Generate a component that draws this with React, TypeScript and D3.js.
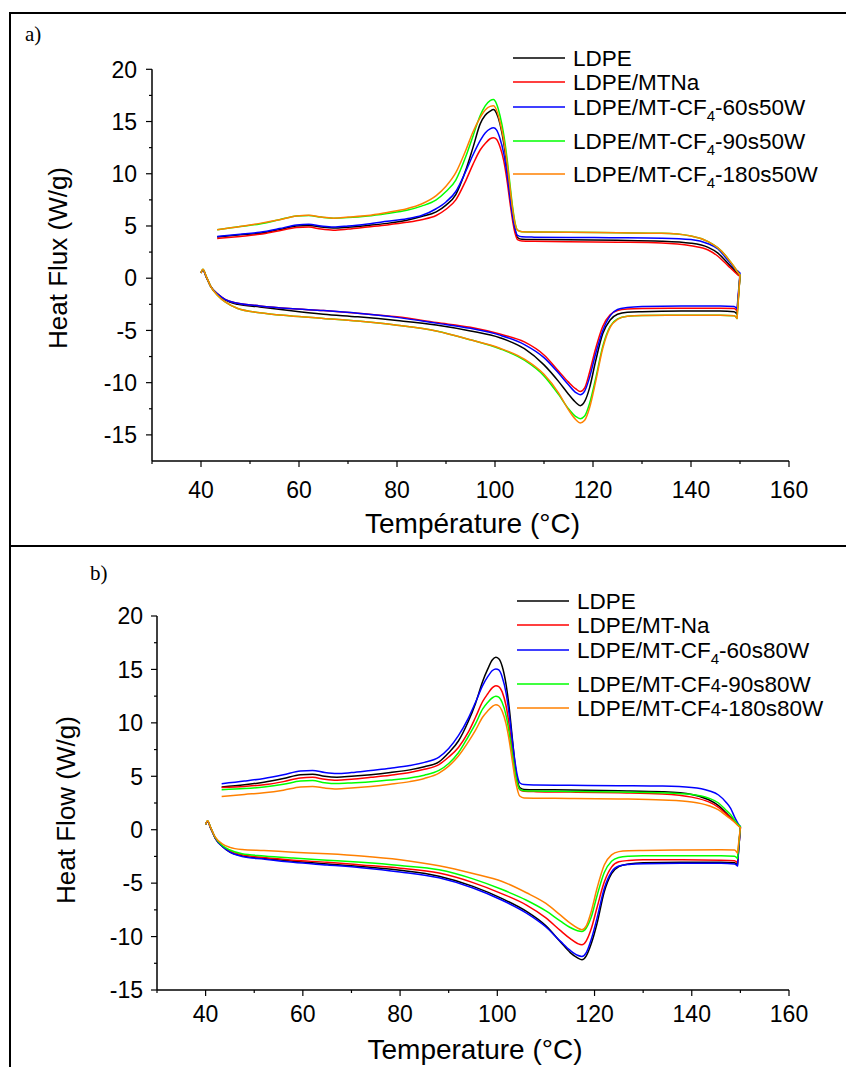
import React from "react";
import * as d3 from "d3";

const FONT = "'Liberation Sans', Arial, Helvetica, sans-serif";
const SERIF = "'Liberation Serif', 'Times New Roman', serif";

// Temperatures (°C) of the heating scan (40 -> 150) and of the cooling scan (150 -> 43)
const heatT = [40, 40.4, 41, 42, 43.5, 45, 47.5, 52, 58, 65, 72, 80, 88, 95, 101, 106, 110, 113, 115, 116.5, 117.4, 118.3, 119.3, 120.5, 122, 123.5, 125, 127, 130, 138, 146, 148.8, 149.4];
const coolT = [150, 149.5, 148.8, 148, 147, 145.5, 143.5, 140, 134, 125, 115, 108, 105.5, 104.6, 104.1, 103.6, 103.1, 102.5, 101.8, 101, 100.3, 99.7, 99, 98, 97, 95.5, 94, 92, 90, 88, 85, 82, 78, 74, 70, 67, 64.5, 62, 59.5, 56, 52, 48, 43.3];

// ---- Panel a) ----
const aNames = ["LDPE", "LDPE/MTNa", "LDPE/MT-CF4-60s50W", "LDPE/MT-CF4-90s50W", "LDPE/MT-CF4-180s50W"];
const aHeatLDPE = [0.5, 0.8, 0.2, -0.8, -1.6, -2.1, -2.5, -2.75, -3.1, -3.45, -3.7, -4.05, -4.48, -5.05, -5.7, -6.75, -8.3, -9.9, -11.1, -11.9, -12.2, -11.8, -10.5, -8.0, -5.3, -4.0, -3.45, -3.25, -3.2, -3.15, -3.15, -3.2, -3.45];
const aHeatMTNa = [0.5, 0.8, 0.2, -0.8, -1.55, -2.05, -2.4, -2.65, -2.9, -3.1, -3.35, -3.7, -4.25, -4.7, -5.35, -6.1, -7.35, -8.9, -9.95, -10.6, -10.85, -10.5, -9.0, -6.8, -4.6, -3.5, -3.1, -2.95, -2.9, -2.87, -2.87, -2.9, -3.15];
const aHeat60 = [0.5, 0.8, 0.2, -0.8, -1.55, -2.05, -2.4, -2.65, -2.9, -3.1, -3.35, -3.75, -4.3, -4.8, -5.45, -6.35, -7.6, -9.1, -10.2, -10.95, -11.15, -10.8, -9.5, -7.3, -5.0, -3.6, -3.0, -2.8, -2.7, -2.65, -2.65, -2.7, -2.95];
const aHeat90 = [0.5, 0.85, 0.25, -0.8, -1.7, -2.3, -2.9, -3.3, -3.6, -3.85, -4.1, -4.5, -5.05, -5.9, -6.75, -7.85, -9.35, -11.15, -12.5, -13.25, -13.45, -13.2, -12.0, -9.7, -6.5, -4.6, -3.9, -3.65, -3.57, -3.55, -3.55, -3.6, -3.85];
const aHeat180 = [0.5, 0.85, 0.25, -0.8, -1.7, -2.3, -2.9, -3.3, -3.6, -3.85, -4.1, -4.5, -5.05, -5.9, -6.7, -7.75, -9.2, -11.0, -12.6, -13.55, -13.85, -13.6, -12.4, -10.0, -6.7, -4.7, -3.95, -3.65, -3.57, -3.55, -3.55, -3.6, -3.85];
const aCoolLDPE = [0.2, 0.4, 0.8, 1.2, 1.7, 2.4, 2.95, 3.35, 3.55, 3.63, 3.67, 3.7, 3.73, 3.9, 4.6, 6.0, 8.0, 10.5, 12.9, 14.8, 15.8, 16.15, 16.0, 15.6, 14.8, 12.5, 10.3, 8.0, 7.0, 6.35, 5.9, 5.55, 5.25, 5.05, 4.88, 4.8, 4.9, 5.05, 5.0, 4.65, 4.3, 4.15, 3.95];
const aCoolMTNa = [0.2, 0.35, 0.65, 1.0, 1.45, 2.1, 2.7, 3.1, 3.38, 3.45, 3.5, 3.53, 3.56, 3.7, 4.3, 5.5, 7.1, 9.2, 11.2, 12.6, 13.3, 13.45, 13.35, 12.9, 12.3, 10.9, 9.3, 7.5, 6.6, 6.0, 5.6, 5.35, 5.1, 4.9, 4.7, 4.6, 4.7, 4.9, 4.85, 4.55, 4.2, 4.0, 3.8];
const aCool60 = [0.5, 0.7, 1.0, 1.45, 2.0, 2.8, 3.3, 3.7, 3.83, 3.88, 3.9, 3.93, 3.96, 4.1, 4.7, 5.9, 7.6, 9.8, 11.9, 13.4, 14.2, 14.4, 14.3, 13.9, 13.2, 11.8, 10.2, 8.3, 7.3, 6.65, 6.0, 5.7, 5.45, 5.2, 5.0, 4.9, 5.0, 5.17, 5.1, 4.75, 4.4, 4.2, 4.0];
const aCool90 = [0.3, 0.6, 1.1, 1.6, 2.2, 2.9, 3.5, 4.05, 4.3, 4.35, 4.4, 4.42, 4.45, 4.6, 5.3, 6.8, 8.8, 11.3, 13.7, 15.6, 16.7, 17.1, 17.0, 16.5, 15.6, 13.6, 11.6, 9.4, 8.3, 7.5, 6.9, 6.5, 6.2, 5.95, 5.8, 5.75, 5.85, 6.0, 5.95, 5.6, 5.2, 4.95, 4.65];
const aCool180 = [0.3, 0.6, 1.1, 1.6, 2.2, 2.9, 3.5, 4.05, 4.3, 4.35, 4.4, 4.42, 4.45, 4.6, 5.2, 6.6, 8.5, 10.9, 13.2, 15.0, 16.1, 16.5, 16.45, 16.1, 15.4, 14.0, 12.2, 10.1, 8.8, 7.9, 7.1, 6.65, 6.3, 6.0, 5.85, 5.75, 5.85, 6.02, 5.95, 5.6, 5.25, 4.95, 4.65];

// ---- Panel b) ----
const bNames = ["LDPE", "LDPE/MT-Na", "LDPE/MT-CF4-60s80W", "LDPE/MT-CF4-90s80W", "LDPE/MT-CF4-180s80W"];
const bHeatLDPE = [0.5, 0.8, 0.2, -0.8, -1.6, -2.1, -2.45, -2.7, -2.95, -3.2, -3.45, -3.8, -4.35, -5.3, -6.45, -7.65, -9.0, -10.5, -11.5, -12.0, -12.17, -11.8, -10.7, -8.8, -5.8, -4.1, -3.45, -3.2, -3.08, -3.05, -3.05, -3.1, -3.3];
const bHeatMTNa = [0.5, 0.8, 0.2, -0.8, -1.55, -2.0, -2.35, -2.6, -2.85, -3.05, -3.3, -3.6, -4.06, -4.95, -6.0, -7.05, -8.25, -9.45, -10.2, -10.65, -10.77, -10.4, -9.3, -7.3, -4.9, -3.5, -3.0, -2.88, -2.82, -2.82, -2.85, -2.9, -3.1];
const bHeat60 = [0.5, 0.8, 0.2, -0.8, -1.6, -2.1, -2.5, -2.75, -3.05, -3.3, -3.55, -3.95, -4.5, -5.45, -6.6, -7.8, -9.1, -10.45, -11.3, -11.75, -11.86, -11.5, -10.3, -8.3, -5.5, -3.95, -3.4, -3.25, -3.18, -3.15, -3.15, -3.2, -3.4];
const bHeat90 = [0.5, 0.85, 0.25, -0.75, -1.5, -1.9, -2.25, -2.45, -2.65, -2.85, -3.05, -3.35, -3.75, -4.6, -5.6, -6.6, -7.6, -8.55, -9.15, -9.45, -9.52, -9.2, -8.2, -6.2, -4.0, -2.95, -2.6, -2.48, -2.43, -2.43, -2.43, -2.48, -2.7];
const bHeat180 = [0.5, 0.85, 0.25, -0.7, -1.35, -1.65, -1.85, -1.95, -2.1, -2.25, -2.45, -2.8, -3.37, -4.1, -4.85, -5.9, -6.9, -8.0, -8.75, -9.2, -9.36, -9.0, -7.7, -5.5, -3.3, -2.35, -2.05, -1.97, -1.94, -1.9, -1.88, -1.9, -2.2];
const bCoolLDPE = [0.2, 0.45, 0.8, 1.15, 1.6, 2.25, 2.8, 3.3, 3.55, 3.65, 3.72, 3.74, 3.77, 3.95, 4.7, 6.3, 8.5, 11.2, 13.6, 15.3, 16.0, 16.13, 15.9, 15.0, 13.9, 11.8, 10.1, 8.3, 7.2, 6.35, 5.9, 5.6, 5.35, 5.15, 5.0, 4.92, 5.0, 5.2, 5.15, 4.8, 4.45, 4.2, 4.0];
const bCoolMTNa = [0.2, 0.45, 0.75, 1.1, 1.5, 2.1, 2.6, 3.05, 3.35, 3.45, 3.52, 3.56, 3.6, 3.75, 4.4, 5.7, 7.4, 9.6, 11.6, 12.9, 13.4, 13.48, 13.3, 12.7, 12.0, 10.5, 9.1, 7.7, 6.8, 6.1, 5.65, 5.35, 5.1, 4.9, 4.72, 4.63, 4.72, 4.9, 4.85, 4.5, 4.2, 4.05, 3.95];
const bCool60 = [0.3, 0.6, 1.2, 2.0, 2.6, 3.25, 3.65, 3.95, 4.08, 4.12, 4.16, 4.19, 4.22, 4.4, 5.1, 6.5, 8.3, 10.6, 12.8, 14.3, 14.95, 15.05, 14.9, 14.3, 13.5, 11.9, 10.4, 8.8, 7.6, 6.8, 6.3, 6.0, 5.75, 5.55, 5.35, 5.25, 5.35, 5.55, 5.5, 5.15, 4.8, 4.55, 4.3];
const bCool90 = [0.3, 0.5, 0.9, 1.4, 1.85, 2.5, 2.95, 3.3, 3.45, 3.52, 3.58, 3.62, 3.65, 3.8, 4.4, 5.5, 7.0, 8.9, 10.7, 11.9, 12.4, 12.48, 12.35, 11.9, 11.3, 9.9, 8.7, 7.2, 6.2, 5.55, 5.1, 4.85, 4.65, 4.5, 4.38, 4.32, 4.4, 4.6, 4.55, 4.25, 4.0, 3.85, 3.75];
const bCool180 = [0.2, 0.4, 0.7, 1.0, 1.35, 1.85, 2.25, 2.6, 2.78, 2.88, 2.93, 2.95, 2.97, 3.15, 3.8, 4.9, 6.4, 8.2, 9.9, 11.1, 11.6, 11.7, 11.55, 11.1, 10.55, 9.3, 8.2, 6.9, 5.95, 5.3, 4.8, 4.5, 4.25, 4.05, 3.9, 3.82, 3.9, 4.05, 4.0, 3.7, 3.45, 3.3, 3.1];

const seriesColors = ["#000000", "#ff0000", "#0000ff", "#00ff00", "#ff8000"];
const xMajorTicks = [40, 60, 80, 100, 120, 140, 160];
const xMinorTicks = [30, 50, 70, 90, 110, 130, 150];
const yMajorTicks = [-15, -10, -5, 0, 5, 10, 15, 20];
const yMinorTicks = [-12.5, -7.5, -2.5, 2.5, 7.5, 12.5, 17.5];

type LegendStyle = "sub" | "inline";

interface PanelCfg {
  x0: number; x1: number; yTop: number; yBot: number; yMin: number;
  heat: number[][]; cool: number[][]; names: string[]; cf4Style: LegendStyle[];
  legX: number; legRows: number[];
  yTitle: string; xTitle: string; yTitleX: number; yTitleY: number;
  xLabelY: number; xTitleY: number; yLabelGap: number;
}

function LegendLabel({ name, style }: { name: string; style: LegendStyle }) {
  const i = name.indexOf("CF4");
  if (i < 0) return <>{name}</>;
  const pre = name.slice(0, i + 2);
  const post = name.slice(i + 3);
  if (style === "sub") {
    return (
      <>
        {pre}
        <tspan fontSize={15} dy={6}>4</tspan>
        <tspan dy={-6}>{post}</tspan>
      </>
    );
  }
  return (
    <>
      {pre}
      <tspan fontSize={18}>4</tspan>
      <tspan>{post}</tspan>
    </>
  );
}

function Panel({ p }: { p: PanelCfg }) {
  const x = d3.scaleLinear().domain([30, 160]).range([p.x0, p.x1]);
  const y = d3.scaleLinear().domain([p.yMin, 20]).range([p.yBot, p.yTop]);
  const line = d3
    .line<[number, number]>()
    .x((d) => x(d[0]))
    .y((d) => y(d[1]))
    .curve(d3.curveMonotoneX);
  const paths = p.heat.map((h, i) => {
    const hp = heatT.map((t, k) => [t, h[k]] as [number, number]);
    const cp = coolT.map((t, k) => [t, p.cool[i][k]] as [number, number]);
    return (line(hp) || "") + (line(cp) || "").replace(/^M/, "L");
  });
  const xAxisY = y(p.yMin);
  return (
    <g>
      {paths.map((d, i) => (
        <path key={i} d={d} fill="none" stroke={seriesColors[i]} strokeWidth={1.5} strokeLinejoin="round" />
      ))}
      {/* axes */}
      <line x1={x(30)} x2={x(30)} y1={y(20)} y2={xAxisY} stroke="#000" strokeWidth={1.5} />
      <line x1={x(30)} x2={x(160)} y1={xAxisY} y2={xAxisY} stroke="#000" strokeWidth={1.5} />
      {yMajorTicks.map((v) => (
        <g key={"ym" + v}>
          <line x1={x(30) - 6} x2={x(30)} y1={y(v)} y2={y(v)} stroke="#000" strokeWidth={1.2} />
          <text x={x(30) - p.yLabelGap} y={y(v)} dy="0.36em" textAnchor="end" fontFamily={FONT} fontSize={23}>
            {v}
          </text>
        </g>
      ))}
      {yMinorTicks.filter((v) => v > p.yMin).map((v) => (
        <line key={"yn" + v} x1={x(30) - 3} x2={x(30)} y1={y(v)} y2={y(v)} stroke="#000" strokeWidth={1.2} />
      ))}
      {xMajorTicks.map((t) => (
        <g key={"xm" + t}>
          <line x1={x(t)} x2={x(t)} y1={xAxisY} y2={xAxisY + 6} stroke="#000" strokeWidth={1.2} />
          <text x={x(t)} y={p.xLabelY} textAnchor="middle" fontFamily={FONT} fontSize={23}>
            {t}
          </text>
        </g>
      ))}
      {xMinorTicks.map((t) => (
        <line key={"xn" + t} x1={x(t)} x2={x(t)} y1={xAxisY} y2={xAxisY + 3} stroke="#000" strokeWidth={1.2} />
      ))}
      <text
        transform={`translate(${p.yTitleX},${p.yTitleY}) rotate(-90)`}
        textAnchor="middle"
        fontFamily={FONT}
        fontSize={26}
      >
        {p.yTitle}
      </text>
      <text x={(p.x0 + p.x1) / 2 + 2} y={p.xTitleY} textAnchor="middle" fontFamily={FONT} fontSize={28}>
        {p.xTitle}
      </text>
      {/* legend */}
      {p.names.map((n, i) => (
        <g key={"lg" + i}>
          <line x1={p.legX} x2={p.legX + 52} y1={p.legRows[i]} y2={p.legRows[i]} stroke={seriesColors[i]} strokeWidth={1.5} />
          <text x={p.legX + 60} y={p.legRows[i] + 8} fontFamily={FONT} fontSize={22.5}>
            <LegendLabel name={n} style={p.cf4Style[i]} />
          </text>
        </g>
      ))}
    </g>
  );
}

const panelA: PanelCfg = {
  x0: 152, x1: 789, yTop: 69.3, yBot: 461, yMin: -17.5,
  heat: [aHeatLDPE, aHeatMTNa, aHeat60, aHeat90, aHeat180],
  cool: [aCoolLDPE, aCoolMTNa, aCool60, aCool90, aCool180],
  names: aNames, cf4Style: ["sub", "sub", "sub", "sub", "sub"],
  legX: 513, legRows: [58, 82, 107, 141, 174],
  yTitle: "Heat Flux (W/g)", xTitle: "Température (°C)", yTitleX: 67, yTitleY: 258,
  xLabelY: 498, xTitleY: 533, yLabelGap: 15,
};

const panelB: PanelCfg = {
  x0: 157, x1: 789, yTop: 616, yBot: 990, yMin: -15,
  heat: [bHeatLDPE, bHeatMTNa, bHeat60, bHeat90, bHeat180],
  cool: [bCoolLDPE, bCoolMTNa, bCool60, bCool90, bCool180],
  names: bNames, cf4Style: ["inline", "inline", "sub", "inline", "inline"],
  legX: 517, legRows: [601, 625, 650, 684, 708],
  yTitle: "Heat Flow (W/g)", xTitle: "Temperature (°C)", yTitleX: 75, yTitleY: 810,
  xLabelY: 1022, xTitleY: 1059, yLabelGap: 14,
};

export default function App() {
  return (
    <svg
      width={846}
      height={1067}
      viewBox="0 0 846 1067"
      style={{ position: "absolute", left: 0, top: 0, background: "#fff" }}
    >
      <rect x={0} y={0} width={846} height={1067} fill="#fff" />
      {/* frame */}
      <line x1={10} x2={846} y1={13} y2={13} stroke="#000" strokeWidth={2} />
      <line x1={10} x2={10} y1={12} y2={1067} stroke="#000" strokeWidth={2} />
      <line x1={10} x2={846} y1={546} y2={546} stroke="#000" strokeWidth={2} />
      <text x={25} y={41} fontFamily={SERIF} fontSize={21}>a)</text>
      <text x={90} y={580} fontFamily={SERIF} fontSize={21}>b)</text>
      <Panel p={panelA} />
      <Panel p={panelB} />
    </svg>
  );
}
